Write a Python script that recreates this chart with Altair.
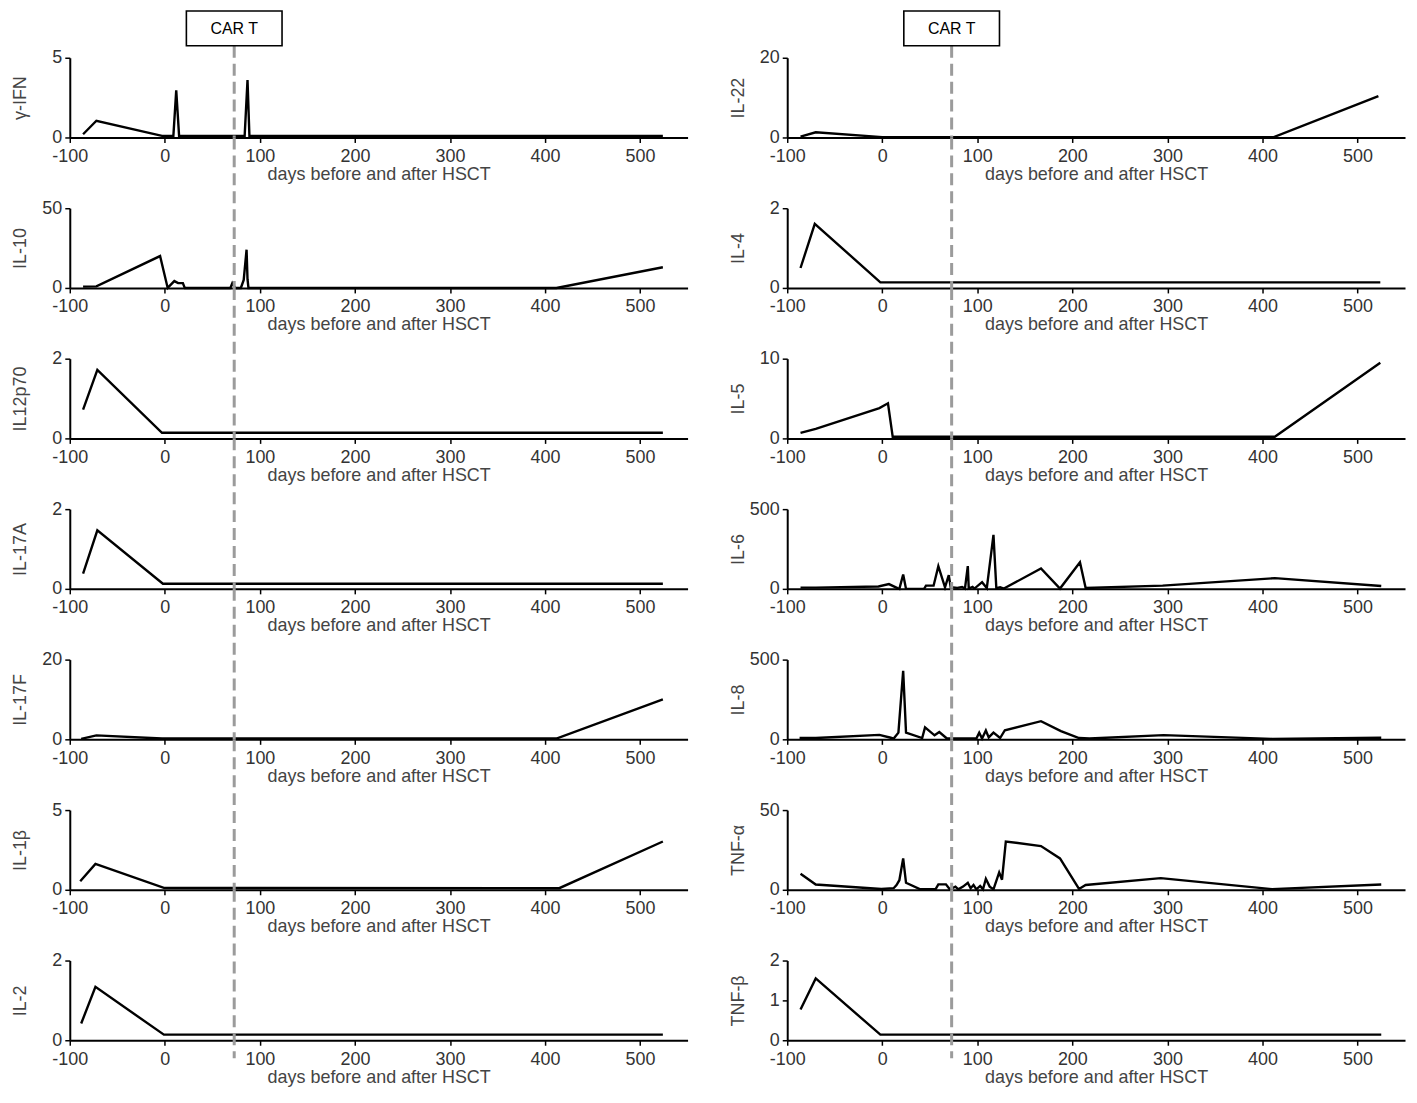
import altair as alt
import pandas as pd

FONT = "Liberation Sans"
CAR_T_DAY = 73
X_TICKS = [-100, 0, 100, 200, 300, 400, 500]
X_DOMAIN = [-100, 550]
X_TITLE = "days before and after HSCT"

# ---------------- left column ----------------
IFNG_DAYS = [-86, -72, -3, 9, 12, 15, 20, 84, 87, 89, 100, 524]
IFNG_VALS = [0.2, 1.05, 0.1, 0.1, 2.95, 0.1, 0.1, 0.1, 3.6, 0.1, 0.1, 0.1]

IL10_DAYS = [-86, -72, -5, 3, 10, 14, 19, 21, 69, 71, 74, 80, 83, 86, 87, 88, 412, 524]
IL10_VALS = [0.8, 1, 20, 0, 4.3, 3, 3, 0, 0, 3, 0, 0, 5, 24, 5.5, 0, 0, 13]

IL12P70_DAYS = [-86, -71, -3, 524]
IL12P70_VALS = [0.72, 1.72, 0.14, 0.14]

IL17A_DAYS = [-86, -71, -2, 524]
IL17A_VALS = [0.38, 1.47, 0.13, 0.13]

IL17F_DAYS = [-88, -72, -3, 412, 524]
IL17F_VALS = [0.1, 1.0, 0.2, 0.2, 10]

IL1B_DAYS = [-89, -73, -1, 415, 524]
IL1B_VALS = [0.53, 1.62, 0.12, 0.1, 3.03]

IL2_DAYS = [-88, -73, -1, 524]
IL2_VALS = [0.42, 1.34, 0.14, 0.14]

# ---------------- right column ----------------
IL22_DAYS = [-86, -70, 0, 412, 522]
IL22_VALS = [0.2, 1.3, 0.1, 0.1, 10.4]

IL4_DAYS = [-86, -71, -2, 524]
IL4_VALS = [0.5, 1.61, 0.14, 0.14]

IL5_DAYS = [-86, -70, -3, 6, 11, 413, 524]
IL5_VALS = [0.7, 1.2, 3.8, 4.4, 0.2, 0.2, 9.5]

IL6_DAYS = [-86, -70, -4, 7, 16, 18, 22, 25, 44, 46, 54, 59, 66, 70, 72, 79, 84, 87,
            90, 91, 95, 97, 105, 110, 117, 120, 124, 128, 167, 187, 208, 214, 295, 413, 525]
IL6_VALS = [8, 8, 15, 30, 5, 0, 90, 0, 0, 20, 20, 142, 10, 86, 10, 6, 12, 2,
            143, 2, 12, 2, 42, 5, 339, 5, 10, 2, 128, 2, 167, 5, 20, 67, 18]

IL8_DAYS = [-87, -70, -3, 9, 12, 17, 22, 25, 42, 45, 55, 60, 68, 99, 102, 105, 109,
            112, 117, 124, 129, 167, 188, 207, 218, 296, 410, 525]
IL8_VALS = [8, 8, 28, 10, 5, 42, 430, 42, 8, 75, 25, 46, 5, 5, 42, 5, 55,
            12, 42, 8, 57, 114, 52, 8, 5, 26, 3, 10]

TNFA_DAYS = [-86, -70, -1, 12, 15, 18, 22, 25, 40, 56, 59, 67, 71, 77, 80, 85, 90, 93,
             96, 99, 103, 106, 109, 113, 117, 123, 126, 130, 167, 187, 207, 214, 293, 410, 525]
TNFA_VALS = [10, 3.3, 0.5, 1, 3, 6, 19.7, 4.4, 0.3, 0.3, 3.4, 3.4, 0.3, 2, 0.3, 2, 4.4, 1,
             3, 0.3, 2.4, 0.3, 6.9, 2, 0.3, 10.9, 6.3, 30.3, 27.4, 19.7, 0.5, 3, 7.3, 0.4, 3.3]

TNFB_DAYS = [-86, -70, -2, 525]
TNFB_VALS = [0.77, 1.55, 0.14, 0.14]

LEFT = [
    ("γ-IFN", IFNG_DAYS, IFNG_VALS, 5, [0, 5]),
    ("IL-10", IL10_DAYS, IL10_VALS, 50, [0, 50]),
    ("IL12p70", IL12P70_DAYS, IL12P70_VALS, 2, [0, 2]),
    ("IL-17A", IL17A_DAYS, IL17A_VALS, 2, [0, 2]),
    ("IL-17F", IL17F_DAYS, IL17F_VALS, 20, [0, 20]),
    ("IL-1β", IL1B_DAYS, IL1B_VALS, 5, [0, 5]),
    ("IL-2", IL2_DAYS, IL2_VALS, 2, [0, 2]),
]
RIGHT = [
    ("IL-22", IL22_DAYS, IL22_VALS, 20, [0, 20]),
    ("IL-4", IL4_DAYS, IL4_VALS, 2, [0, 2]),
    ("IL-5", IL5_DAYS, IL5_VALS, 10, [0, 10]),
    ("IL-6", IL6_DAYS, IL6_VALS, 500, [0, 500]),
    ("IL-8", IL8_DAYS, IL8_VALS, 500, [0, 500]),
    ("TNF-α", TNFA_DAYS, TNFA_VALS, 50, [0, 50]),
    ("TNF-β", TNFB_DAYS, TNFB_VALS, 2, [0, 1, 2]),
]

W = 620
H = 80
VSPACE = 71
HSPACE = 100
LABEL_EXPR = "'' + datum.value"


def xenc():
    return alt.X(
        "day:Q",
        scale=alt.Scale(domain=X_DOMAIN, nice=False, zero=False),
        axis=alt.Axis(values=X_TICKS, title=X_TITLE, labelFlush=False,
                      titlePadding=0, labelPadding=5, labelExpr=LABEL_EXPR),
    )


def panel(name, days, vals, ymax, yticks, idx, n):
    df = pd.DataFrame({"day": days, "value": vals})
    line = alt.Chart(df).mark_line(color="black", strokeWidth=2.4).encode(
        x=xenc(),
        y=alt.Y(
            "value:Q",
            scale=alt.Scale(domain=[0, ymax], nice=False),
            axis=alt.Axis(values=yticks, title=name, titleX=-40, labelPadding=3,
                          labelExpr=LABEL_EXPR),
        ),
    )
    ev = pd.DataFrame({"day": [CAR_T_DAY]})
    top = -12 if idx == 0 else -VSPACE
    bottom = H + 18 if idx == n - 1 else H
    rule = alt.Chart(ev).mark_rule(color="#9b9b9b", strokeWidth=3, strokeDash=[12, 6]).encode(
        x=xenc(), y=alt.value(top), y2=alt.value(bottom)
    )
    layers = [line, rule]
    if idx == 0:
        box = alt.Chart(ev).mark_rect(
            fill="white", stroke="black", strokeWidth=1.6, xOffset=-48, x2Offset=48
        ).encode(x=xenc(), x2=alt.X2("day"), y=alt.value(-47), y2=alt.value(-12))
        txt = alt.Chart(ev).mark_text(
            text="CAR T", font=FONT, fontSize=16, color="black"
        ).encode(x=xenc(), y=alt.value(-29))
        layers += [box, txt]
    return alt.layer(*layers).properties(width=W, height=H)


n = len(LEFT)
panels = []
for i in range(n):
    panels.append(panel(*LEFT[i], i, n))
    panels.append(panel(*RIGHT[i], i, n))

chart = (
    alt.concat(*panels, columns=2, spacing={"row": VSPACE, "column": HSPACE}, bounds="flush")
    .properties(padding={"left": 4, "top": 0, "right": 4, "bottom": 4})
    .configure_view(strokeWidth=0)
    .configure_axis(
        domainColor="black", domainWidth=2, tickColor="black", tickWidth=1.5,
        tickSize=5, grid=False,
        labelFont=FONT, labelFontSize=18, labelColor="#333333",
        titleFont=FONT, titleFontSize=18, titleFontWeight="normal", titleColor="#444444",
    )
)

chart.save("out.html", embed_options={"renderer": "svg", "actions": False})
